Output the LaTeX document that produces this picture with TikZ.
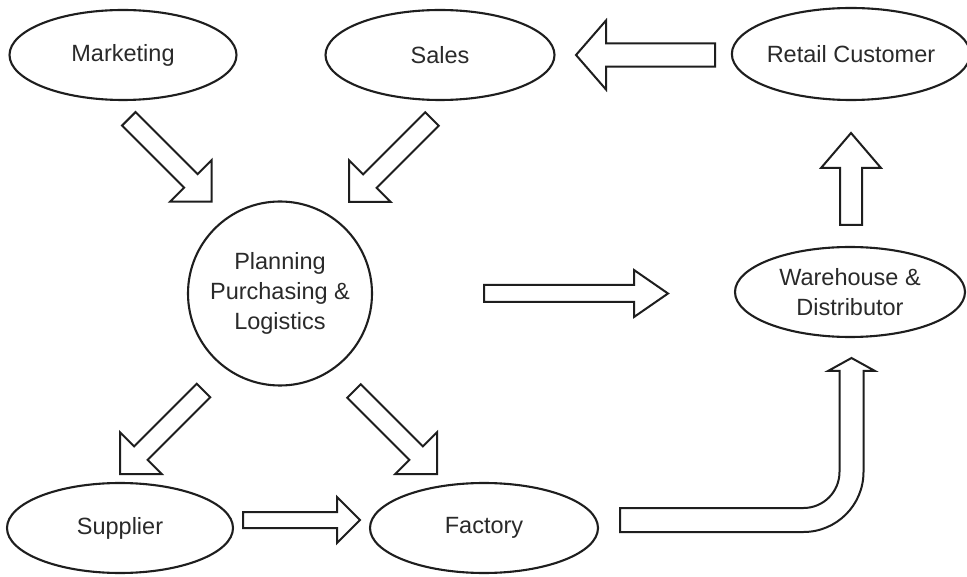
\documentclass[tikz,border=0pt]{standalone}
\usepackage{fontspec}
\setmainfont{Liberation Sans}
\usetikzlibrary{shapes.geometric,calc}

\definecolor{inkline}{HTML}{1E1E1E}
\definecolor{inktext}{HTML}{2A2A2A}

% Hollow block arrow: #1 tail, #2 tip, #3 shaft half width,
% #4 head half width, #5 head length
\newcommand\blockarrow[5]{%
  \coordinate (ba-base) at ($(#2)!#5!(#1)$);
  \draw[arrowbody]
    ($(#1)!#3!90:(#2)$) -- ($(ba-base)!#3!-90:(#1)$)
    -- ($(ba-base)!#4!-90:(#1)$) -- (#2)
    -- ($(ba-base)!#4!90:(#1)$) -- ($(ba-base)!#3!90:(#1)$)
    -- ($(#1)!#3!-90:(#2)$) -- cycle;
}

\begin{document}
\begin{tikzpicture}[x=1pt,y=-1pt,
  every node/.style={text=inktext, font=\fontsize{23.5}{30}\selectfont},
  oval/.style={ellipse, draw=inkline, line width=2.1pt, fill=white,
               inner sep=0pt, minimum width=#1, minimum height=90pt, align=center},
  hub/.style={circle, draw=inkline, line width=2.1pt, fill=white,
              inner sep=0pt, minimum size=184pt, align=center},
  arrowbody/.style={draw=inkline, line width=2pt, fill=white, line join=miter}]

\useasboundingbox (0,0) rectangle (967,577);
\fill[white] (0,0) rectangle (967,577);

% process nodes
\node[oval=227pt] (marketing) at (123,55) {Marketing};
\node[oval=229pt] (sales)     at (440,55) {Sales};
\node[oval=228pt, minimum height=92pt] (retail) at (851,54) {Retail Customer};
\node[hub]        (planning)  at (280,293.5) {Planning\\Purchasing \&\\Logistics};
\node[oval=230pt] (warehouse) at (850,292) {Warehouse \&\\Distributor};
\node[oval=226pt] (supplier)  at (120,528) {Supplier};
\node[oval=228pt] (factory)   at (484,528) {Factory};

% arrow ends
\coordinate (rs-t) at (715,55);      \coordinate (rs-p) at (576,55);
\coordinate (mp-t) at (128.8,118.8); \coordinate (mp-p) at (211.7,201.7);
\coordinate (sp-t) at (432,119);     \coordinate (sp-p) at (349,202);
\coordinate (pw-t) at (484,293.5);   \coordinate (pw-p) at (668,293.5);
\coordinate (wr-t) at (851,225);     \coordinate (wr-p) at (851,133);
\coordinate (ps-t) at (203.5,390.5); \coordinate (ps-p) at (120,474);
\coordinate (pf-t) at (354,391);     \coordinate (pf-p) at (437,474);
\coordinate (sf-t) at (243,520);     \coordinate (sf-p) at (360,520);

\blockarrow{rs-t}{rs-p}{11.7pt}{34.5pt}{30pt}
\blockarrow{mp-t}{mp-p}{9.5pt}{29.5pt}{29.5pt}
\blockarrow{sp-t}{sp-p}{9.5pt}{29.5pt}{29.5pt}
\blockarrow{pw-t}{pw-p}{8.5pt}{23.5pt}{34pt}
\blockarrow{wr-t}{wr-p}{11pt}{30pt}{35pt}
\blockarrow{ps-t}{ps-p}{9.5pt}{29.5pt}{29.5pt}
\blockarrow{pf-t}{pf-p}{9.5pt}{29.5pt}{29.5pt}
\blockarrow{sf-t}{sf-p}{8pt}{23pt}{23pt}

% bent arrow from the factory up to the warehouse
\draw[arrowbody]
  (620,508) -- (620,532) -- (803.5,532)
  .. controls (836.6,532) and (863.5,505.1) .. (863.5,472)
  -- (863.5,371) -- (875,371) -- (851.5,358) -- (828,371) -- (839.5,371)
  -- (839.5,472)
  .. controls (839.5,491.9) and (823.4,508) .. (803.5,508) -- cycle;

\end{tikzpicture}
\end{document}
